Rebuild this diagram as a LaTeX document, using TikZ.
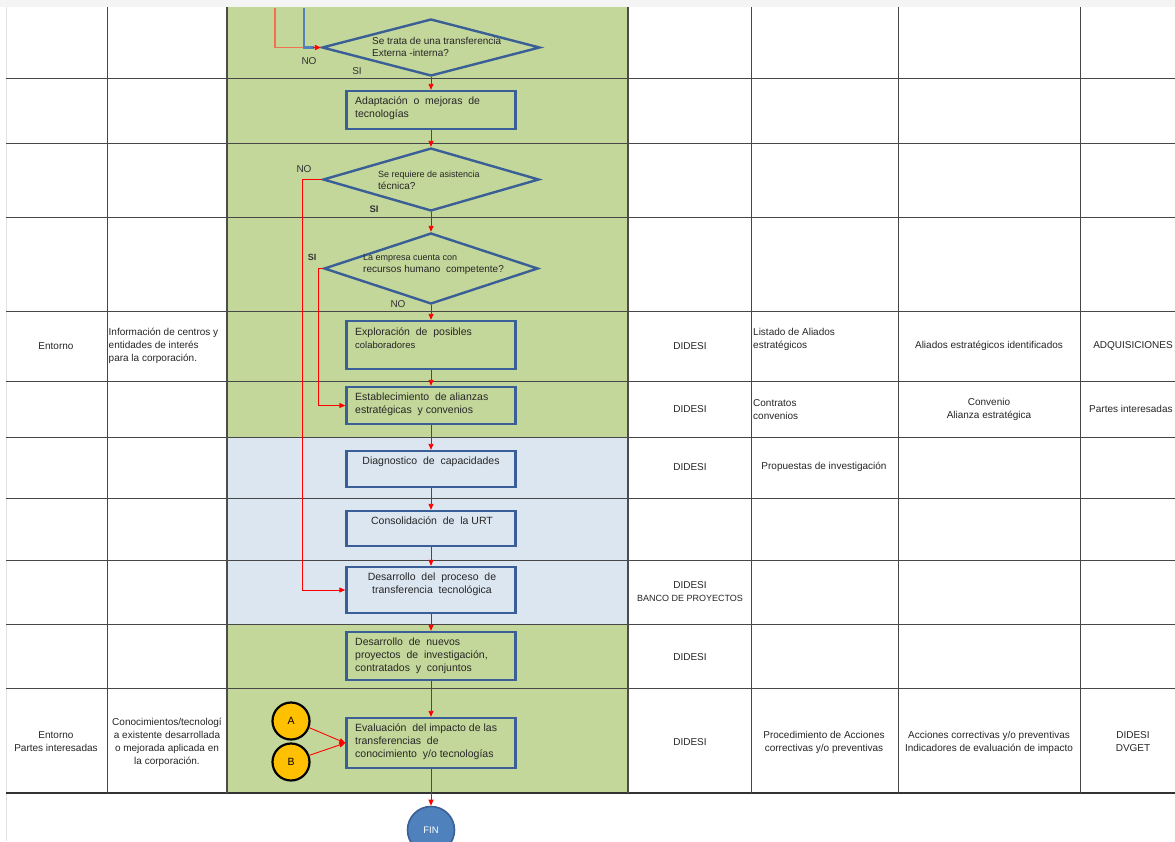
\documentclass[tikz,border=0pt]{standalone}
\usepackage{fontspec}
\setmainfont{Liberation Sans}
\usetikzlibrary{shapes.geometric,arrows.meta}
\definecolor{lanegreen}{HTML}{C4D79B}
\definecolor{laneblue}{HTML}{DCE6F1}
\definecolor{boxblue}{HTML}{3A5F96}
\definecolor{linkblue}{HTML}{4F81BD}
\definecolor{linkorange}{HTML}{F07050}
\definecolor{conyellow}{HTML}{FFC000}
\definecolor{topgray}{HTML}{F4F4F4}
\tikzset{
  gridline/.style={draw=black!72, line width=1pt},
  laneline/.style={draw=black!70, line width=1.5pt},
  procbox/.style={draw=boxblue, line width=2.4pt, fill=lanegreen, minimum width=169, inner sep=0},
  procboxb/.style={procbox, fill=laneblue},
  decision/.style={diamond, draw=boxblue, line width=2.4pt, fill=lanegreen, inner sep=0},
  boxtxt/.style={font=\fontsize{10.5}{13}\selectfont, align=left, inner sep=0, text=black!85},
  boxtxtc/.style={boxtxt, align=center},
  dectxt/.style={font=\fontsize{10}{12}\selectfont, align=left, inner sep=0, text=black!85},
  tabtxt/.style={font=\fontsize{10}{13}\selectfont, align=center, inner sep=0, text=black!85},
  tabtxtl/.style={tabtxt, align=left},
  branch/.style={font=\fontsize{10}{12}\selectfont, inner sep=0, text=black!80},
  flow/.style={draw=red, line width=0.9pt, -{Triangle[width=5pt,length=6pt]}},
  plainflow/.style={draw=red, line width=0.9pt},
  connector/.style={circle, draw=black, line width=2.2pt, fill=conyellow, minimum size=37, inner sep=0, font=\fontsize{10.5}{12}\selectfont},
  endnode/.style={circle, draw=boxblue, line width=1.6pt, fill=linkblue, minimum size=47, inner sep=0, text=white, font=\fontsize{9.5}{11}\selectfont}
}
\begin{document}
\begin{tikzpicture}[x=1pt,y=-1pt]
\useasboundingbox (0,0) rectangle (1175,841);
\fill[white] (0,0) rectangle (1175,841);
\fill[topgray] (0,0) rectangle (1175,7);

% lane backgrounds
\fill[lanegreen] (227,7) rectangle (628,437);
\fill[laneblue] (227,437) rectangle (628,624);
\fill[lanegreen] (227,624) rectangle (628,793);

% table grid
\draw[black!12, line width=0.8pt] (6,7) -- (6,841);
\foreach \yy in {78,143,217,311,381,437,498,560,624,688}
  \draw[gridline] (6,\yy) -- (1175,\yy);
\draw[black!80, line width=2.2pt] (6,793) -- (1175,793);
\foreach \xx in {107,751,898,1080}
  \draw[gridline] (\xx,7) -- (\xx,793);
\draw[laneline] (227,7) -- (227,793);
\draw[laneline] (628,7) -- (628,793);

% flow shapes
\node[decision, minimum width=218, minimum height=57] (d1) at (431,47.5) {};
\node[procbox, minimum height=38] (adap) at (431,110) {};
\node[decision, minimum width=216, minimum height=63] (d2) at (431,179.5) {};
\node[decision, minimum width=214, minimum height=71] (d3) at (431,268.5) {};
\node[procbox, minimum height=48] (expl) at (431,345) {};
\node[procbox, minimum height=37] (est) at (431,405.5) {};
\node[procboxb, minimum height=36] (diag) at (431,469) {};
\node[procboxb, minimum height=35] (cons) at (431,528.5) {};
\node[procboxb, minimum height=46] (dp) at (431,590) {};
\node[procbox, minimum height=48] (dn) at (431,656) {};
\node[procbox, minimum height=50] (ev) at (431,743) {};
\node[connector] (ca) at (291,721) {A};
\node[connector] (cb) at (291,762) {B};
\node[endnode] (fin) at (431,830) {FIN};

% shape texts
\node[dectxt, anchor=west] (d1t) at (372,46.5) {Se trata de una transferencia\\Externa -interna?};
\node[dectxt, anchor=west] (d2t) at (378,180.5) {{\fontsize{9}{11}\selectfont Se requiere de asistencia}\\técnica?};
\node[dectxt, anchor=west] (d3t) at (363,264.5) {{\fontsize{9}{11}\selectfont La empresa cuenta con}\\recursos humano\ \ competente?};
\node[boxtxt, anchor=west] (adapt) at (355,108.5) {Adaptación\ \ o\ \ mejoras\ \ de\\tecnologías};
\node[boxtxt, anchor=west] (explt) at (355,338.5) {Exploración\ \ de\ \ posibles\\{\fontsize{9.5}{13}\selectfont colaboradores}};
\node[boxtxt, anchor=west] (estt) at (355,404.5) {Establecimiento\ \ de alianzas\\estratégicas\ \ y convenios};
\node[boxtxtc] (diagt) at (431,462) {Diagnostico\ \ de\ \ capacidades};
\node[boxtxtc] (const) at (432,521) {Consolidación\ \ de\ \ la URT};
\node[boxtxtc] (dpt) at (432,584.5) {Desarrollo\ \ del\ \ proceso\ \ de\\transferencia\ \ tecnológica};
\node[boxtxt, anchor=west] (dnt) at (355,656) {Desarrollo\ \ de\ \ nuevos\\proyectos\ \ de\ \ investigación,\\contratados\ \ y\ \ conjuntos};
\node[boxtxt, anchor=west] (evt) at (355,742) {Evaluación\ \ del impacto de las\\transferencias\ \ de\\conocimiento\ \ y/o tecnologías};

% branch labels
\begin{scope}
  \clip (228,8) rectangle (627,65.5);
  \node[branch] (no1) at (309,61) {NO};
\end{scope}
\begin{scope}
  \clip (228,8) rectangle (627,74);
  \node[branch] (si1) at (357,71) {SI};
\end{scope}
\node[branch] (no2) at (304,169) {NO};
\node[branch, font=\bfseries\fontsize{9.5}{11}\selectfont] (si2) at (374,209) {SI};
\node[branch, font=\bfseries\fontsize{9}{11}\selectfont] (si3) at (312,257) {SI};
\node[branch] (no3) at (398,304) {NO};

% incoming links from above
\coordinate (inorange) at (275,8);
\coordinate (inblue) at (304,8);
\draw[linkorange, line width=1.3pt, -{Triangle[width=5pt,length=6pt]}] (inorange) |- (d1.west);
\draw[linkblue, line width=2.6pt] (inblue) |- ([xshift=-7pt]d1.west);
\draw[red, line width=0.9pt, -{Triangle[width=5pt,length=6pt]}] ([xshift=-8pt]d1.west) -- (d1.west);

% main flow
\draw[flow] (d1.south) -- (adap.north);
\draw[flow] (adap.south) -- (d2.north);
\draw[flow] (d2.south) -- (d3.north);
\draw[flow] (d3.south) -- (expl.north);
\draw[flow] (expl.south) -- (est.north);
\draw[flow] (est.south) -- (diag.north);
\draw[flow] (diag.south) -- (cons.north);
\draw[flow] (cons.south) -- (dp.north);
\draw[flow] (dp.south) -- (dn.north);
\draw[flow] (dn.south) -- (ev.north);
\draw[flow] (ev.south) -- (fin.north);

% side branches
\draw[flow] (d2.west) -- ++(-19,0) |- (dp.west);
\draw[flow] (d3.west) -- ++(-4,0) |- (est.west);
\draw[flow] (ca.-20) -- (ev.west);
\draw[flow] (cb.20) -- (ev.west);

% table texts
\node[tabtxt] (r1a) at (56,346) {Entorno};
\node[tabtxtl, anchor=west] (r1b) at (108.5,346) {Información de centros y\\entidades de interés\\para la corporación.};
\node[tabtxt] (r1c) at (690,346) {DIDESI};
\node[tabtxtl, anchor=west] (r1d) at (753,339.5) {Listado de Aliados\\estratégicos};
\node[tabtxt] (r1e) at (989,346) {Aliados estratégicos identificados};
\node[tabtxt] (r1f) at (1133,346) {ADQUISICIONES};

\node[tabtxt] (r2c) at (690,409) {DIDESI};
\node[tabtxtl, anchor=west] (r2d) at (753,409.5) {Contratos\\convenios};
\node[tabtxt] (r2e) at (989,409.5) {Convenio\\Alianza estratégica};
\node[tabtxtl, anchor=west] (r2f) at (1089,409) {Partes interesadas};

\node[tabtxt] (r3c) at (690,467) {DIDESI};
\node[tabtxt] (r3d) at (824,467) {Propuestas de investigación};

\node[tabtxt] (r5c) at (690,591.5) {DIDESI\\{\fontsize{9}{13}\selectfont BANCO DE PROYECTOS}};

\node[tabtxt] (r6c) at (690,657) {DIDESI};

\node[tabtxt] (r7a) at (56,742) {Entorno\\Partes interesadas};
\node[tabtxt] (r7b) at (167,742) {Conocimientos/tecnologí\\a existente desarrollada\\o mejorada aplicada en\\la corporación.};
\node[tabtxt] (r7c) at (690,742) {DIDESI};
\node[tabtxt] (r7d) at (824,742) {Procedimiento de Acciones\\correctivas y/o preventivas};
\node[tabtxt] (r7e) at (989,742) {Acciones correctivas y/o preventivas\\Indicadores de evaluación de impacto};
\node[tabtxt] (r7f) at (1133,742) {DIDESI\\DVGET};
\end{tikzpicture}
\end{document}
